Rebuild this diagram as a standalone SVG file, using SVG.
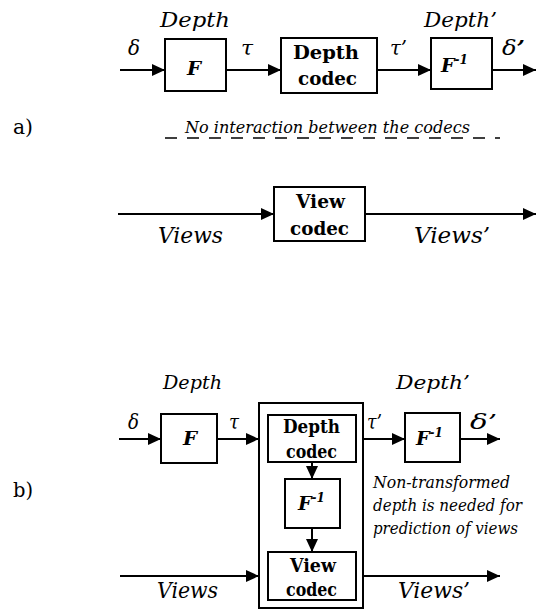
<svg xmlns="http://www.w3.org/2000/svg" width="536" height="610" viewBox="0 0 536 610" style="font-family:'DejaVu Serif',serif">
<style>
.box{fill:#fff;stroke:#000;stroke-width:2}
.frame{fill:none;stroke:#000;stroke-width:2}
.ln{fill:none;stroke:#000;stroke-width:2}
.it{font-style:italic}
.bd{font-weight:bold}
.bi{font-weight:bold;font-style:italic}
</style>
<defs>
<marker id="ah" markerUnits="userSpaceOnUse" markerWidth="13" markerHeight="12" refX="13" refY="6" orient="auto">
<path d="M0,0 L13,6 L0,12 z" fill="#000"/>
</marker>
</defs>
<rect width="536" height="610" fill="#fff"/>

<g id="a-labels">
<text class="it" x="160" y="27" font-size="20" textLength="70" lengthAdjust="spacingAndGlyphs">Depth</text>
<text class="it" x="128" y="55" font-size="20" textLength="12" lengthAdjust="spacingAndGlyphs">δ</text>
<text class="it" x="241" y="55" font-size="20" textLength="12" lengthAdjust="spacingAndGlyphs">τ</text>
<text class="it" x="390" y="55" font-size="20" textLength="17" lengthAdjust="spacingAndGlyphs">τ’</text>
<text class="it" x="502" y="55" font-size="20" textLength="23" lengthAdjust="spacingAndGlyphs">δ<tspan font-weight="bold">’</tspan></text>
<text class="it" x="424" y="27" font-size="20" textLength="73" lengthAdjust="spacingAndGlyphs">Depth’</text>
<text x="13" y="134" font-size="20" textLength="20" lengthAdjust="spacingAndGlyphs">a)</text>
<text class="it" x="185" y="133" font-size="17" textLength="285" lengthAdjust="spacingAndGlyphs">No interaction between the codecs</text>
<text class="it" x="158" y="243" font-size="22" textLength="65" lengthAdjust="spacingAndGlyphs">Views</text>
<text class="it" x="414" y="243" font-size="22" textLength="76" lengthAdjust="spacingAndGlyphs">Views’</text>
</g>

<g id="a-F">
<rect class="box" x="165" y="39" width="61" height="52"/>
<text class="bi" x="187" y="75" font-size="19" textLength="14" lengthAdjust="spacingAndGlyphs">F</text>
</g>
<g id="a-depth-codec">
<rect class="box" x="281" y="38" width="96" height="55"/>
<text class="bd" x="293" y="59" font-size="19" textLength="66" lengthAdjust="spacingAndGlyphs">Depth</text>
<text class="bd" x="298" y="85" font-size="19" textLength="59" lengthAdjust="spacingAndGlyphs">codec</text>
</g>
<g id="a-Finv">
<rect class="box" x="431" y="38" width="61" height="51"/>
<text class="bi" x="441" y="72" font-size="19">F<tspan font-size="12" dy="-8">-1</tspan></text>
</g>
<g id="a-view-codec">
<rect class="box" x="274" y="187" width="91" height="54"/>
<text class="bd" x="296" y="208" font-size="19" textLength="49" lengthAdjust="spacingAndGlyphs">View</text>
<text class="bd" x="290" y="235" font-size="19" textLength="59" lengthAdjust="spacingAndGlyphs">codec</text>
</g>

<g id="b-labels">
<text class="it" x="163" y="389" font-size="19" textLength="59" lengthAdjust="spacingAndGlyphs">Depth</text>
<text class="it" x="396" y="389" font-size="19" textLength="74" lengthAdjust="spacingAndGlyphs">Depth’</text>
<text class="it" x="128" y="429" font-size="20" textLength="11" lengthAdjust="spacingAndGlyphs">δ</text>
<text class="it" x="229" y="429" font-size="20" textLength="10" lengthAdjust="spacingAndGlyphs">τ</text>
<text class="it" x="367" y="429" font-size="20" textLength="15" lengthAdjust="spacingAndGlyphs">τ’</text>
<text class="it" x="470" y="429" font-size="20" textLength="27" lengthAdjust="spacingAndGlyphs">δ’</text>
<text x="13" y="497" font-size="20" textLength="20" lengthAdjust="spacingAndGlyphs">b)</text>
<text class="it" x="373" y="488" font-size="16" textLength="137" lengthAdjust="spacingAndGlyphs">Non-transformed</text>
<text class="it" x="373" y="511" font-size="16" textLength="149" lengthAdjust="spacingAndGlyphs">depth is needed for</text>
<text class="it" x="373" y="534" font-size="16" textLength="145" lengthAdjust="spacingAndGlyphs">prediction of views</text>
<text class="it" x="157" y="598" font-size="22" textLength="61" lengthAdjust="spacingAndGlyphs">Views</text>
<text class="it" x="398" y="598" font-size="22" textLength="72" lengthAdjust="spacingAndGlyphs">Views’</text>
</g>

<g id="b-F">
<rect class="box" x="161" y="414" width="56" height="49"/>
<text class="bi" x="183" y="445" font-size="19" textLength="14" lengthAdjust="spacingAndGlyphs">F</text>
</g>
<g id="b-container">
<rect class="frame" x="259" y="403" width="104" height="205"/>
</g>
<g id="b-depth-codec">
<rect class="box" x="268" y="415" width="88" height="47"/>
<text class="bd" x="283" y="433" font-size="18" textLength="57" lengthAdjust="spacingAndGlyphs">Depth</text>
<text class="bd" x="286" y="458" font-size="18" textLength="51" lengthAdjust="spacingAndGlyphs">codec</text>
</g>
<g id="b-Finv-inner">
<rect class="box" x="285" y="479" width="55" height="49"/>
<text class="bi" x="298" y="510" font-size="19">F<tspan font-size="12" dy="-8">-1</tspan></text>
</g>
<g id="b-view-codec">
<rect class="box" x="268" y="552" width="88" height="48"/>
<text class="bd" x="290" y="572" font-size="18" textLength="46" lengthAdjust="spacingAndGlyphs">View</text>
<text class="bd" x="286" y="596" font-size="18" textLength="51" lengthAdjust="spacingAndGlyphs">codec</text>
</g>
<g id="b-Finv">
<rect class="box" x="405" y="413" width="55" height="49"/>
<text class="bi" x="416" y="445" font-size="19">F<tspan font-size="12" dy="-8">-1</tspan></text>
</g>

<g id="connectors">
<line class="ln" x1="120" y1="70" x2="165" y2="70" marker-end="url(#ah)"/>
<line class="ln" x1="226" y1="70" x2="281" y2="70" marker-end="url(#ah)"/>
<line class="ln" x1="377" y1="70" x2="431" y2="70" marker-end="url(#ah)"/>
<line class="ln" x1="492" y1="70" x2="536" y2="70" marker-end="url(#ah)"/>
<line class="ln" x1="118" y1="214" x2="274" y2="214" marker-end="url(#ah)"/>
<line class="ln" x1="365" y1="214" x2="536" y2="214" marker-end="url(#ah)"/>
<line x1="165" y1="138" x2="500" y2="138" stroke="#000" stroke-width="1.6" stroke-dasharray="12 10"/>
<line class="ln" x1="119" y1="439" x2="161" y2="439" marker-end="url(#ah)"/>
<line class="ln" x1="217" y1="439" x2="259" y2="439" marker-end="url(#ah)"/>
<line class="ln" x1="363" y1="439" x2="405" y2="439" marker-end="url(#ah)"/>
<line class="ln" x1="460" y1="439" x2="500" y2="439" marker-end="url(#ah)"/>
<line class="ln" x1="312" y1="462" x2="312" y2="479" marker-end="url(#ah)"/>
<line class="ln" x1="312" y1="528" x2="312" y2="552" marker-end="url(#ah)"/>
<line class="ln" x1="120" y1="576" x2="259" y2="576" marker-end="url(#ah)"/>
<line class="ln" x1="363" y1="576" x2="500" y2="576" marker-end="url(#ah)"/>
</g>
</svg>
